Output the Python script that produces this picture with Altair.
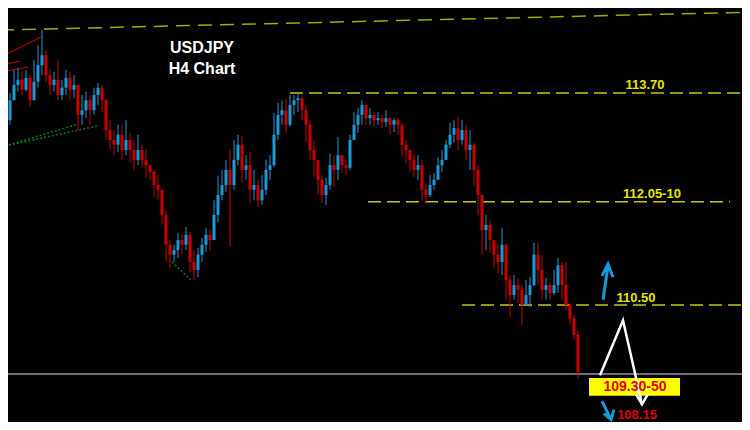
import altair as alt
import pandas as pd

# ---- candle data (USDJPY H4) ----
first_open = 112.99
close = [113.07,113.29,113.59,113.82,113.90,113.75,113.93,113.59,113.87,114.12,
114.27,113.97,113.82,113.90,113.67,113.78,113.93,113.75,113.82,113.37,
113.44,113.59,113.44,113.67,113.78,113.59,113.14,112.99,112.92,113.07,
112.84,112.99,112.84,112.69,112.84,112.69,112.61,112.51,112.31,112.24,
111.86,111.41,111.26,111.33,111.48,111.41,111.56,111.15,111.03,111.26,
111.41,111.56,111.48,111.86,112.16,112.31,112.54,112.31,112.69,112.92,
112.54,112.61,112.24,112.31,112.08,112.24,112.54,112.61,113.07,113.37,
113.44,113.22,113.52,113.59,113.62,113.44,113.22,112.84,112.69,112.39,
112.16,112.31,112.61,112.54,112.76,112.61,112.57,112.99,113.22,113.37,
113.52,113.32,113.37,113.29,113.32,113.26,113.32,113.22,113.29,113.22,
112.92,112.84,112.69,112.54,112.61,112.24,112.16,112.31,112.39,112.61,
112.69,112.92,113.07,113.17,112.99,113.14,112.84,112.92,112.54,112.16,
111.63,111.71,111.48,111.26,111.15,111.41,110.88,110.65,110.80,110.73,
110.50,110.65,110.80,111.26,111.03,110.73,110.80,110.68,110.80,111.10,
110.80,110.50,110.30,110.05,109.49]
high = [113.17,113.44,113.70,114.05,114.08,114.02,114.05,113.97,114.20,114.42,
114.65,114.35,114.05,114.02,114.20,113.90,114.05,114.02,113.97,113.82,
113.67,113.72,113.67,113.78,113.85,113.82,113.62,113.29,113.14,113.22,
113.22,113.29,113.10,112.99,113.07,112.92,112.84,112.61,112.54,112.46,
112.24,111.93,111.48,111.41,111.59,111.56,111.68,111.60,111.33,111.36,
111.51,111.66,111.63,112.08,112.45,112.54,112.69,112.84,112.99,113.07,
113.04,112.76,112.81,112.54,112.39,112.46,112.69,112.76,113.40,113.55,
113.59,113.62,113.67,113.67,113.70,113.67,113.52,113.29,112.99,112.69,
112.46,112.42,112.79,112.76,113.04,112.76,112.69,113.07,113.41,113.47,
113.59,113.52,113.47,113.41,113.41,113.37,113.44,113.34,113.32,113.32,
113.24,112.99,112.84,112.79,112.76,112.69,112.34,112.46,112.49,112.73,
112.84,112.99,113.25,113.29,113.34,113.29,113.22,113.14,112.95,112.61,
112.18,111.86,111.78,111.48,111.41,111.66,111.43,110.95,110.95,110.91,
110.80,110.88,110.92,111.44,111.45,111.26,110.91,110.85,111.03,111.21,
111.15,111.15,110.53,110.35,110.12]
low = [112.92,113.02,113.22,113.59,113.72,113.67,113.72,113.49,113.59,113.78,
113.97,113.87,113.67,113.72,113.59,113.59,113.67,113.59,113.62,113.14,
113.22,113.32,113.22,113.37,113.52,113.41,112.99,112.84,112.76,112.81,
112.69,112.76,112.66,112.54,112.61,112.57,112.42,112.39,112.13,112.08,
111.71,111.15,111.06,111.15,111.21,111.26,111.33,111.00,110.88,110.92,
111.15,111.30,111.33,111.48,111.75,112.08,112.21,111.38,112.24,112.61,
112.34,112.39,112.04,112.08,111.98,112.01,112.16,112.39,112.58,112.99,
113.22,113.10,113.19,113.37,113.41,113.29,112.95,112.69,112.43,112.16,
112.04,112.01,112.24,112.28,112.39,112.49,112.46,112.54,112.99,113.10,
113.22,113.22,113.22,113.19,113.22,113.17,113.19,113.07,113.11,113.07,
112.73,112.64,112.51,112.43,112.39,112.08,112.04,112.13,112.24,112.39,
112.51,112.69,112.87,112.95,112.84,112.92,112.69,112.54,112.31,111.86,
111.26,111.33,111.29,111.06,110.98,110.95,110.58,110.32,110.58,110.53,
110.20,110.50,110.47,110.78,110.80,110.58,110.58,110.58,110.65,110.68,
110.58,110.42,110.20,109.97,109.40]

# ---- annotation data (candle index, price) ----
level_seg = ["trend", "trend", "l113", "l113", "l112", "l112", "l110", "l110"]
level_i = [-0.5, 187, 72, 187, 91.5, 182, 115, 187]
level_p = [114.65, 114.92, 113.70, 113.70, 112.06, 112.06, 110.50, 110.50]

grey_i = [-0.5, 187]
grey_p = [109.46, 109.46]

red_seg = ["a", "a", "b", "b", "c", "c"]
red_i = [-0.5, 10, -0.5, 4.5, -0.5, 6.5]
red_p = [114.24, 114.55, 114.12, 114.18, 114.02, 114.09]

green_seg = ["a", "a", "b", "b", "c", "c"]
green_i = [0.75, 19, 0.75, 23.75, 42.5, 47.5]
green_p = [112.90, 113.23, 112.90, 113.20, 111.15, 110.86]

white_seg = ["zig", "zig", "zig", "head", "head", "head"]
white_i = [149.5, 155.25, 160.0, 158.5, 160.0, 161.5]
white_p = [109.44, 110.27, 109.00, 109.15, 109.00, 109.16]

blue_seg = ["up", "up", "uph", "uph", "uph", "dn", "dn", "dnh", "dnh", "dnh"]
blue_i = [150.25, 151.5, 150.0, 151.5, 152.75, 150.0, 152.0, 150.5, 152.25, 153.0]
blue_p = [110.58, 111.09, 110.94, 111.12, 110.92, 109.05, 108.80, 108.86, 108.77, 108.92]

box_i = [146.75]
box_i2 = [169.5]
box_p = [109.40]
box_p2 = [109.13]

label_text = ["USDJPY", "H4 Chart", "113.70", "112.05-10", "110.50", "109.30-50", "108.15"]
label_i = [50, 50, 160.75, 162.5, 158.5, 158.25, 158.75]
label_p = [114.38, 114.06, 113.82, 112.18, 110.61, 109.265, 108.84]
label_col = ["#ffffff", "#ffffff", "#e6e600", "#e6e600", "#e6e600", "#e00000", "#e00000"]
label_size = [16, 16, 13, 13, 13, 14, 13]

# ---- build ----
opens = [first_open] + close[:-1]
candles = pd.DataFrame({
    "i": list(range(len(close))), "open": opens, "close": close,
    "high": high, "low": low,
    "dir": ["up" if c >= o else "down" for o, c in zip(opens, close)],
})

xs = alt.Scale(domain=[1.5, 185], nice=False, zero=False)
ys = alt.Scale(domain=[108.734, 114.983], nice=False, zero=False)
col = alt.Color("dir:N", scale=alt.Scale(domain=["up", "down"], range=["#1a9ad6", "#cc0000"]), legend=None)

wicks = alt.Chart(candles).mark_rule(strokeWidth=1, clip=True).encode(
    x=alt.X("i:Q", scale=xs, axis=None),
    y=alt.Y("low:Q", scale=ys, axis=None), y2="high:Q", color=col)
bodies = alt.Chart(candles).mark_rule(strokeWidth=3, clip=True).encode(
    x=alt.X("i:Q", scale=xs, axis=None),
    y=alt.Y("open:Q", scale=ys, axis=None), y2="close:Q", color=col)


def seg_layer(seg, i, p, **mk):
    d = pd.DataFrame({"seg": seg, "i": i, "p": p})
    return alt.Chart(d).mark_line(clip=True, **mk).encode(
        x=alt.X("i:Q", scale=xs, axis=None),
        y=alt.Y("p:Q", scale=ys, axis=None),
        detail="seg:N")


trend = seg_layer(level_seg[:2], level_i[:2], level_p[:2], color="#a8a800", strokeWidth=1.5, strokeDash=[14, 8])
hlev = seg_layer(level_seg[2:], level_i[2:], level_p[2:], color="#c8c800", strokeWidth=1.5, strokeDash=[13, 6])
grey = seg_layer(["g", "g"], grey_i, grey_p, color="#70707c", strokeWidth=2)
reds = seg_layer(red_seg, red_i, red_p, color="#cc0000", strokeWidth=1)
greens = seg_layer(green_seg, green_i, green_p, color="#0a7a0a", strokeWidth=1.5, strokeDash=[2, 2])
whites = seg_layer(white_seg, white_i, white_p, color="#ffffff", strokeWidth=2.5)
blues = seg_layer(blue_seg, blue_i, blue_p, color="#1a9ad6", strokeWidth=3)

box = alt.Chart(pd.DataFrame({"i": box_i, "i2": box_i2, "p": box_p, "p2": box_p2})).mark_rect(
    color="#ffff00").encode(
    x=alt.X("i:Q", scale=xs, axis=None), x2="i2:Q",
    y=alt.Y("p:Q", scale=ys, axis=None), y2="p2:Q")

labels = alt.Chart(pd.DataFrame({"t": label_text, "i": label_i, "p": label_p,
                                 "c": label_col, "s": label_size})).mark_text(
    font="Liberation Sans", fontWeight="bold", align="center", baseline="middle").encode(
    x=alt.X("i:Q", scale=xs, axis=None),
    y=alt.Y("p:Q", scale=ys, axis=None),
    text="t:N",
    color=alt.Color("c:N", scale=None),
    size=alt.Size("s:Q", scale=None))

chart = alt.layer(trend, hlev, grey, reds, greens, wicks, bodies, box, whites, blues, labels).properties(
    width=734, height=414, background="#000000", padding=0,
    autosize=alt.AutoSizeParams(type="none"),
).configure_view(strokeWidth=0)

chart.save("out.html", embed_options={"renderer": "svg", "actions": False})
